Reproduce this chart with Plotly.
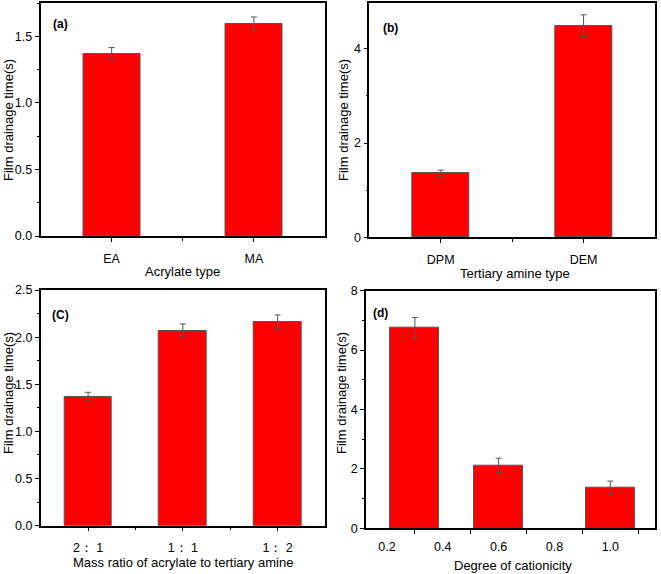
import plotly.graph_objects as go

W, H = 661, 574

# ---- data ----
acrylate_types = ["EA", "MA"]
acrylate_time = [1.37, 1.59]
acrylate_err = [0.045, 0.055]

amine_types = ["DPM", "DEM"]
amine_time = [1.36, 4.49]
amine_err = [0.065, 0.23]

ratio_labels = ["2\uff1a 1", "1\uff1a 1", "1\uff1a 2"]
ratio_time = [1.37, 2.07, 2.16]
ratio_err = [0.045, 0.07, 0.075]

cationicity = [0.3, 0.6, 1.0]
cation_time = [6.75, 2.12, 1.36]
cation_err = [0.35, 0.24, 0.23]
cation_ticks = [0.2, 0.4, 0.6, 0.8, 1.0]

FONT = "Arial, Liberation Sans, sans-serif"
RED = "#FF0000"

fig = go.Figure()

def px_dom_x(a, b):
    return [a / W, b / W]

def px_dom_y(top, bottom):
    return [1 - bottom / H, 1 - top / H]

panels = [
    dict(n="", xs=list(range(len(acrylate_types))), y=acrylate_time, e=acrylate_err, w=0.4,
         dx=px_dom_x(40.5, 325), dy=px_dom_y(3, 236), yr=[0, 1.75], ydt=0.5),
    dict(n="2", xs=list(range(len(amine_types))), y=amine_time, e=amine_err, w=0.4,
         dx=px_dom_x(369.3, 655), dy=px_dom_y(3, 237.3), yr=[0, 4.97], ydt=2),
    dict(n="3", xs=list(range(len(ratio_labels))), y=ratio_time, e=ratio_err, w=0.5,
         dx=px_dom_x(40.7, 325), dy=px_dom_y(290, 525.7), yr=[0, 2.5], ydt=0.5),
    dict(n="4", xs=cationicity, y=cation_time, e=cation_err, w=0.175,
         dx=px_dom_x(366, 655), dy=px_dom_y(290.7, 528.3), yr=[0, 8], ydt=2),
]

for p in panels:
    fig.add_trace(go.Bar(
        x=p["xs"], y=p["y"], width=p["w"],
        marker=dict(color=RED, line=dict(color="#555555", width=1)),
        error_y=dict(type="data", array=p["e"], visible=True,
                     color="#555555", thickness=1, width=3),
        xaxis="x" + p["n"], yaxis="y" + p["n"], showlegend=False,
    ))

axis_common = dict(showline=True, linecolor="black", linewidth=1.5, mirror=True,
                   showgrid=False, zeroline=False, ticks="outside", tickcolor="black",
                   automargin=False,
                   ticklen=4, tickwidth=1, tickfont=dict(family=FONT, size=12.5, color="black"))

layout = dict(width=W, height=H, margin=dict(l=0, r=0, t=0, b=0, autoexpand=False),
              paper_bgcolor="white", plot_bgcolor="white", bargap=0,
              font=dict(family=FONT, color="black"))

# x axes
cat_sets = [acrylate_types, amine_types, ratio_labels]
for i, p in enumerate(panels):
    key = "xaxis" + p["n"]
    ax = dict(axis_common)
    ax.update(domain=p["dx"], anchor="y" + p["n"])
    if i < 3:
        cats = cat_sets[i]
        n = len(cats)
        ax.update(range=[-0.5, n - 0.5], tickvals=list(range(n)), ticktext=cats,
                  minor=dict(ticks="outside", tickvals=[k + 0.5 for k in range(n - 1)],
                             ticklen=3, tickcolor="black", tickwidth=1))
    else:
        ax.update(range=[0.125, 1.16], tickvals=cation_ticks,
                  ticktext=["%.1f" % t for t in cation_ticks], ticks="",
                  minor=dict(ticks="outside", tickvals=[0.3, 0.5, 0.7, 0.9, 1.1],
                             ticklen=4, tickcolor="black", tickwidth=1))
    ax["ticklabelstandoff"] = 6
    layout[key] = ax
    # y axis
    ykey = "yaxis" + p["n"]
    ay = dict(axis_common)
    ay.update(domain=p["dy"], anchor="x" + p["n"], range=p["yr"], dtick=p["ydt"],
              tick0=0,
              minor=dict(ticks="outside", dtick=p["ydt"] / 2, ticklen=2,
                         tickcolor="black", tickwidth=1))
    if p["ydt"] < 1:
        ay["tickformat"] = ".1f"
    layout[ykey] = ay

fig.update_layout(**layout)

ann = []
def add_text(x, y, text, size=13, angle=0, bold=False, xanchor="center"):
    ann.append(dict(x=x / W, y=1 - y / H, xref="paper", yref="paper", text=("<b>%s</b>" % text) if bold else text,
                    showarrow=False, textangle=angle, xanchor=xanchor, yanchor="middle",
                    font=dict(family=FONT, size=size, color="black")))

# y titles
add_text(8, 120, "Film drainage time(s)", angle=-90)
add_text(343, 120, "Film drainage time(s)", angle=-90)
add_text(8, 393, "Film drainage time(s)", angle=-90)
add_text(341, 393, "Film drainage time(s)", angle=-90)
# x titles
add_text(182, 271, "Acrylate type")
add_text(515, 273, "Tertiary amine type")
add_text(183, 562, "Mass ratio of acrylate to tertiary amine")
add_text(512.5, 565, "Degree of cationicity")
# panel labels
add_text(51, 24, "(a)", size=12, bold=True, xanchor="left")
add_text(381, 28, "(b)", size=12, bold=True, xanchor="left")
add_text(50, 315, "(C)", size=12, bold=True, xanchor="left")
add_text(371, 313, "(d)", size=12, bold=True, xanchor="left")

fig.update_layout(annotations=ann)
fig.write_html("out.html", config={"displayModeBar": False},
               post_script="document.body.style.margin='0';")
